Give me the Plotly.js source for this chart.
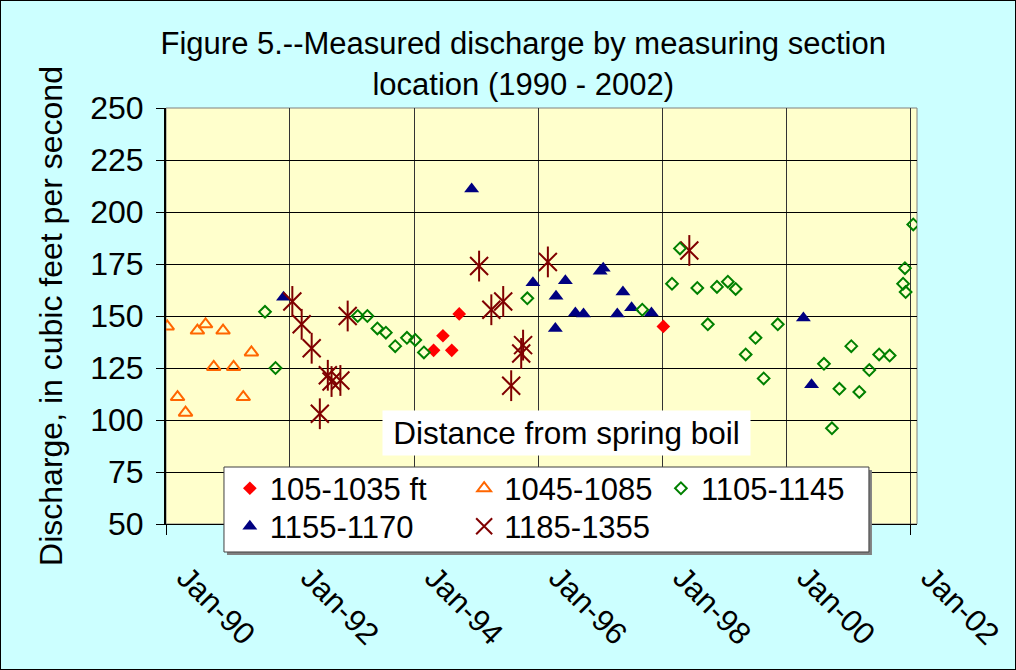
<!DOCTYPE html>
<html><head><meta charset="utf-8">
<script src="https://cdn.plot.ly/plotly-3.0.1.min.js"></script>
<style>
html,body{margin:0;padding:0;background:#CCFFFF;}
#chart{width:1016px;height:670px;}
#frame{position:absolute;left:0;top:0;width:1014px;height:668px;border:1px solid #000;pointer-events:none;}
</style>
</head><body><div id="chart"></div><div id="frame"></div>
<script>
// Series: 105-1035 ft
const redDates = ['1994-04-26','1994-06-20','1994-08-11','1994-09-24','1998-01-08'];
const redValues = [133.5,140.5,133.5,151,145];
// Series: 1045-1085
const orangeDates = ['1990-01-08','1990-03-10','1990-04-26','1990-07-05','1990-08-22','1990-10-09','1990-12-03','1991-02-03','1991-04-01','1991-05-19'];
const orangeValues = [145,111,103.5,143,146,125.5,143,125.5,111,132.5];
// Series: 1105-1145
const greenDates = ['1991-08-07','1991-10-08','1993-02-03','1993-04-01','1993-05-30','1993-07-19','1993-09-12','1993-11-20','1994-01-08','1994-02-28','1995-10-30','1997-09-06','1998-02-28','1998-04-16','1998-07-27','1998-09-27','1998-11-20','1999-01-23','1999-03-10','1999-05-08','1999-07-05','1999-08-22','1999-11-13','2000-08-11','2000-09-27','2000-11-10','2001-01-19','2001-03-07','2001-05-05','2001-07-02','2001-09-02','2001-11-20','2001-12-01','2001-12-05','2002-01-19'];
const greenValues = [152,125,150,150,144,142,135.5,139.5,138.5,132.5,158.5,153,165.5,182.5,163.5,146,164,166.5,163,131.5,139.5,120,146,127,96,115,135.5,113.5,124,131.5,131,165.5,173,161.5,194];
// Series: 1155-1170
const navyDates = ['1991-11-24','1994-12-06','1995-12-02','1996-04-12','1996-04-16','1996-06-10','1996-08-08','1996-09-25','1997-01-01','1997-01-19','1997-04-12','1997-05-15','1997-07-05','1997-10-30','2000-04-12','2000-05-30'];
const navyValues = [159,211,166,144,159.5,167,151.5,151,171.5,173,151,161.5,154,151.5,149,117];
// Series: 1185-1355
const starDates = ['1992-01-15','1992-03-10','1992-05-08','1992-06-25','1992-08-11','1992-09-02','1992-10-24','1992-12-06','1995-01-19','1995-04-01','1995-06-10','1995-07-27','1995-09-24','1995-10-05','1996-02-28','1998-06-10'];
const starValues = [157,146,134.5,103,121.5,118.5,119,150,174,153,157,116.5,132,136,176,181.5];

const seriesNames = ['105-1035 ft','1045-1085','1105-1145','1155-1170','1185-1355'];
const xTickStart = '1990-01-01';
const xRange = ['1990-01-01','2002-02-10'];
const yRange = [50,250];

const FONT = '"Liberation Sans", Arial, sans-serif';

const traces = [
  {type:'scatter', mode:'markers', name:seriesNames[0], x:redDates, y:redValues, legend:'legend',
   marker:{symbol:'diamond', size:10.5, color:'#FF0000'}},
  {type:'scatter', mode:'markers', name:seriesNames[3], x:navyDates, y:navyValues, legend:'legend2',
   marker:{symbol:'triangle-up', size:13, color:'#000080'}},
  {type:'scatter', mode:'markers', name:seriesNames[1], x:orangeDates, y:orangeValues, legend:'legend3',
   marker:{symbol:'triangle-up-open', size:12, color:'#FF6600', line:{width:2, color:'#FF6600'}}},
  {type:'scatter', mode:'markers', name:seriesNames[4], x:starDates, y:starValues, legend:'legend4',
   marker:{symbol:'x-thin-open', size:18, color:'#800000', line:{width:2, color:'#800000'}}},
  {type:'scatter', mode:'markers', name:seriesNames[4], x:starDates, y:starValues, legend:'legend4', showlegend:false,
   marker:{symbol:'line-ns-open', size:22, color:'#800000', line:{width:2, color:'#800000'}}},
  {type:'scatter', mode:'markers', name:seriesNames[2], x:greenDates, y:greenValues, legend:'legend5',
   marker:{symbol:'diamond-open', size:9, color:'#008000', line:{width:2, color:'#008000'}}}
];

const legBase = {bgcolor:'rgba(0,0,0,0)', borderwidth:0, font:{size:31, family:FONT, color:'#000'},
  xanchor:'left', yanchor:'top', orientation:'v', tracegroupgap:0, itemclick:false};
const row1 = 0.150, row2 = 0.150 - 38/416;

const layout = {
  width:1016, height:670,
  paper_bgcolor:'#CCFFFF', plot_bgcolor:'#FFFFCC',
  margin:{l:166, r:99, t:108, b:146, autoexpand:false},
  font:{family:FONT, color:'#000', size:30},
  showlegend:true,
  title:{text:'Figure 5.--Measured discharge by measuring section<br>location (1990 - 2002)',
    font:{size:31, family:FONT, color:'#000'}, x:0.515, xanchor:'center', xref:'container',
    y:0.919, yanchor:'top', yref:'container'},
  xaxis:{type:'date', range:xRange, tick0:xTickStart, dtick:'M24', tickformat:'%b-%y', tickangle:45,
    ticks:'outside', ticklen:10, tickcolor:'#000', tickwidth:1,
    ticklabelshift:20, ticklabelstandoff:12,
    showline:true, linecolor:'#000', linewidth:1,
    showgrid:true, gridcolor:'#333333', gridwidth:1, zeroline:false,
    tickfont:{size:31, family:FONT, color:'#000'}},
  yaxis:{range:yRange, tick0:50, dtick:25, ticks:'outside', ticklen:8, tickcolor:'#000', tickwidth:1,
    ticklabelstandoff:6,
    showline:true, linecolor:'#000', linewidth:2,
    showgrid:true, gridcolor:'#000000', gridwidth:1, zeroline:false,
    tickfont:{size:32, family:FONT, color:'#000'},
    title:{text:'Discharge, in cubic feet per second', font:{size:32, family:FONT, color:'#000'}, standoff:18}},
  legend: Object.assign({}, legBase, {x:0.085, y:row1}),
  legend2: Object.assign({}, legBase, {x:0.085, y:row2}),
  legend3: Object.assign({}, legBase, {x:0.397, y:row1}),
  legend4: Object.assign({}, legBase, {x:0.397, y:row2}),
  legend5: Object.assign({}, legBase, {x:0.659, y:row1}),
  shapes:[
    {type:'rect', xref:'paper', yref:'paper', x0:0, x1:1, y0:0, y1:1, line:{color:'#808080', width:1}, fillcolor:'rgba(0,0,0,0)', layer:'below'},
    {type:'rect', xref:'paper', yref:'paper', x0:0.0812, x1:0.940, y0:-0.0745, y1:0.130, line:{width:0}, fillcolor:'#808080', layer:'above'},
    {type:'rect', xref:'paper', yref:'paper', x0:0.0772, x1:0.936, y0:-0.0673, y1:0.137, line:{color:'#404040', width:1}, fillcolor:'#FFFFFF', layer:'above'}
  ],
  annotations:[
    {xref:'paper', yref:'paper', x:0.533, y:0.218, xanchor:'center', yanchor:'middle', showarrow:false,
     text:'Distance from spring boil', font:{size:31.5, family:FONT, color:'#000'},
     bgcolor:'#FFFFFF', borderpad:4, width:359}
  ]
};

Plotly.newPlot('chart', traces, layout, {staticPlot:true, displayModeBar:false});
</script></body></html>
